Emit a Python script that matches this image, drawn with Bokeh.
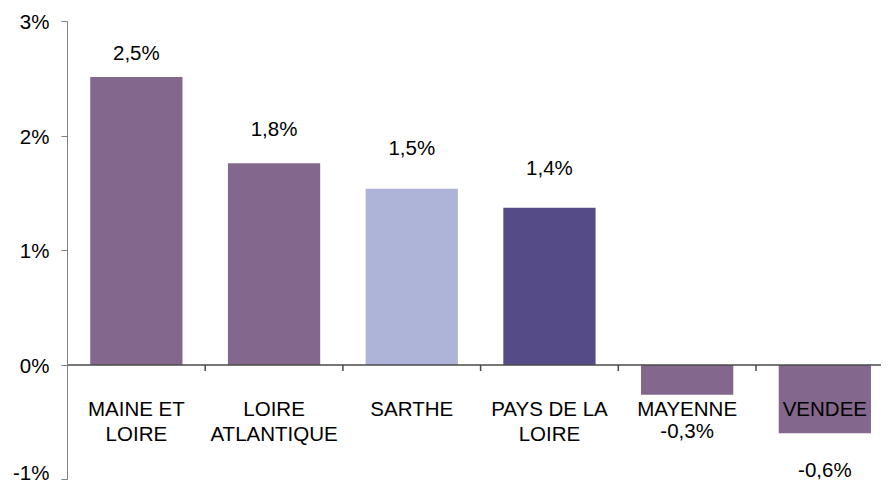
from bokeh.plotting import figure
from bokeh.models import Range1d, LinearAxis, FixedTicker, ColumnDataSource, Span
from bokeh.core.properties import value
from bokeh.embed import file_html
from bokeh.resources import INLINE

# ---- data ----
categories = ["MAINE ET\nLOIRE", "LOIRE\nATLANTIQUE", "SARTHE", "PAYS DE LA\nLOIRE", "MAYENNE", "VENDEE"]
values = [2.515, 1.763, 1.54, 1.374, -0.26, -0.596]
bar_colors = ["#84678C", "#84678C", "#AEB4D8", "#544B87", "#84678C", "#84678C"]
y_ticks = [-1, 0, 1, 2, 3]
y_tick_labels = ["-1%", "0%", "1%", "2%", "3%"]

# label offsets (px, screen) relative to bar end
label_dy_px = [-25, -35, -41, -40, 36, 36]

FONT = "Liberation Sans"
FS = "20.5px"

W, H = 881, 483
LEFT, TOP, BOTTOM = 67, 21, 4
STEP_PX = 137.7
Y0, Y1 = -1, 3
px_per_unit = (H - TOP - BOTTOM) / (Y1 - Y0)

n = len(categories)
xs = [i + 0.5 for i in range(n)]
labels = [("%.1f" % v).replace(".", ",") + "%" for v in values]

p = figure(width=W, height=H, output_backend="svg", toolbar_location=None,
           x_range=Range1d(0, (W - LEFT) / STEP_PX), y_range=Range1d(Y0, Y1),
           min_border_left=LEFT, min_border_right=0, min_border_top=TOP, min_border_bottom=BOTTOM,
           x_axis_location=None, y_axis_location=None)
p.outline_line_color = None
p.xgrid.visible = False
p.ygrid.visible = False
p.background_fill_color = "white"
p.border_fill_color = "white"

src = ColumnDataSource(dict(x=xs, top=values, color=bar_colors, label=labels,
                            dy=label_dy_px, cat=categories, zero=[0] * n))
p.vbar(x="x", top="top", bottom=0, width=0.67, fill_color="color", line_color=None, source=src)

# zero line and boundary ticks
p.add_layout(Span(location=0, dimension="width", line_color="#4a4a4a", line_width=1.5))
bounds = list(range(1, n))
p.segment(x0=bounds, y0=[0] * len(bounds), x1=bounds, y1=[-6 / px_per_unit] * len(bounds),
          line_color="#4a4a4a", line_width=1.5)

# value labels
p.text(x="x", y="top", text="label", y_offset="dy", source=src,
       text_align="center", text_baseline="middle",
       text_font=value(FONT), text_font_size=FS, text_color="black")

# category labels
p.text(x="x", y="zero", text="cat", y_offset=32, source=src,
       text_align="center", text_baseline="top", text_line_height=1.1,
       text_font=value(FONT), text_font_size=FS, text_color="black")

# y axis
yaxis = LinearAxis(ticker=FixedTicker(ticks=y_ticks),
                   major_label_overrides={t: l for t, l in zip(y_ticks, y_tick_labels)})
yaxis.axis_line_color = "#808080"
yaxis.major_tick_line_color = "#808080"
yaxis.major_tick_out = 6
yaxis.major_tick_in = 0
yaxis.minor_tick_line_color = None
yaxis.major_label_standoff = 12
yaxis.major_label_text_font = FONT
yaxis.major_label_text_font_size = FS
yaxis.major_label_text_color = "black"
p.add_layout(yaxis, "left")

open("out.html", "w").write(file_html(p, INLINE))
